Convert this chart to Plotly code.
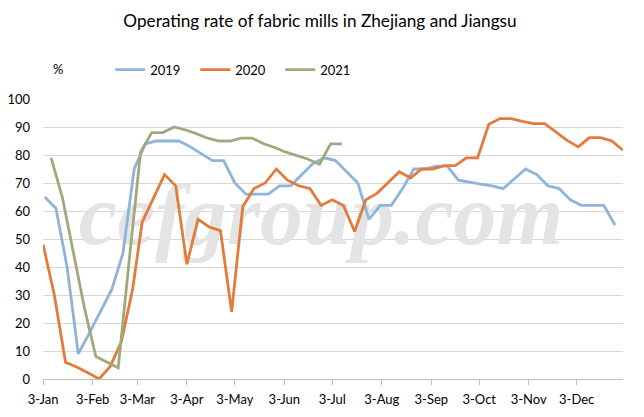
import pandas as pd
import plotly.graph_objects as go

# ---- data (weekly operating rate, %) ----
v2019 = [65, 61, 40, 9, 16.5, 24, 32, 45, 75, 84, 85, 85, 85, 83, 80.5, 78, 78, 70, 66, 66,
         66, 69, 69, 73, 77, 79, 78, 74, 70, 57, 62, 62, 68, 75, 75, 76, 76, 71, 70.2, 69.6,
         69, 68, 71.5, 75, 73, 69, 68, 64, 62, 62, 62, 55]
v2020 = [48, 30, 6, 4.3, 2.2, 0, 4.5, 13.4, 32, 56, 64.5, 73, 69, 41, 57, 54.3, 53, 24, 61.6, 68,
         70, 75, 71, 69, 68, 62, 64, 62, 52.7, 64, 66.3, 70, 74, 71.8, 75, 75, 76.2, 76.2, 79, 79,
         91, 93, 93, 92, 91.2, 91.2, 88.2, 85.2, 82.9, 86.2, 86.2, 85, 81.7]
v2021 = [79, 65, 45, 25, 8, 6, 4, 43, 81, 88, 88, 90, 89, 87.6, 86, 85, 85, 86, 86, 84,
         82.7, 81, 79.8, 78.5, 76.7, 84, 84]

# weekly report dates of each year, shown on a common month-day axis
d2019 = pd.date_range("2019-01-04", periods=len(v2019), freq="7D")
d2020 = pd.date_range("2020-01-03", periods=len(v2020), freq="7D") - pd.DateOffset(years=1)
d2021 = pd.date_range("2021-01-08", periods=len(v2021), freq="7D") - pd.DateOffset(years=2)

series_names = ["2019", "2020", "2021"]
tick_dates = pd.date_range("2019-01-01", "2019-12-01", freq="MS") + pd.Timedelta(days=2)

colors = ["#8EB4DA", "#E27B3B", "#9FA97C"]
FONT = "Lato"

fig = go.Figure()
# watermark
fig.add_trace(go.Scatter(
    x=[pd.Timestamp("2019-06-26")], y=[56], mode="text", text=["cefgroup.com"],
    textfont=dict(family="Liberation Serif", size=86, color="#e4e4e4", style="italic",
                  weight="bold"),
    hoverinfo="skip", showlegend=False))

for name, xs, ys, c in zip(series_names, [d2019, d2020, d2021], [v2019, v2020, v2021], colors):
    fig.add_trace(go.Scatter(x=xs, y=ys, mode="lines", name=name,
                             line=dict(color=c, width=2.8)))

# page has an 8px body margin, so the figure is sized/placed to compensate
W, H = 628, 401
L, R, T, B = 34.7, 12.7, 91.3, 29.7
PW, PH = W - L - R, H - T - B
fig.update_layout(
    width=W, height=H,
    margin=dict(l=L, r=R, t=T, b=B, pad=0, autoexpand=False),
    paper_bgcolor="white", plot_bgcolor="white",
    font=dict(family=FONT, size=13, color="#000000"),
    title=dict(text="Operating rate of fabric mills in Zhejiang and Jiangsu",
               x=312 / W, xanchor="center", y=1 - 13 / H, yanchor="middle",
               font=dict(family=FONT, size=17.2, color="#000000")),
    showlegend=True,
    legend=dict(orientation="h", x=(102 - L) / PW, xanchor="left",
                y=1 + (T - 47) / PH, yanchor="top",
                font=dict(family=FONT, size=13), entrywidth=40,
                bgcolor="rgba(0,0,0,0)"),
    xaxis=dict(type="date", range=["2019-01-02 22:00", "2020-01-01"],
               tickvals=tick_dates, tickformat="%-d-%b",
               showgrid=False, showline=True, linecolor="#bfbfbf", linewidth=1,
               ticks="outside", ticklen=5, tickcolor="#bfbfbf",
               ticklabelstandoff=3,
               tickfont=dict(family=FONT, size=13), zeroline=False),
    yaxis=dict(range=[0, 100], dtick=10, showgrid=True, gridcolor="#d9d9d9",
               gridwidth=1, showline=False, zeroline=False, ticks="",
               ticklabelstandoff=12, tickfont=dict(family=FONT, size=13)),
    annotations=[dict(text="%", xref="paper", yref="paper",
                      x=(50 - L) / PW, y=1 + (T - 61) / PH,
                      xanchor="center", yanchor="middle", showarrow=False,
                      font=dict(family=FONT, size=13))],
)

fig.write_html("out.html")
